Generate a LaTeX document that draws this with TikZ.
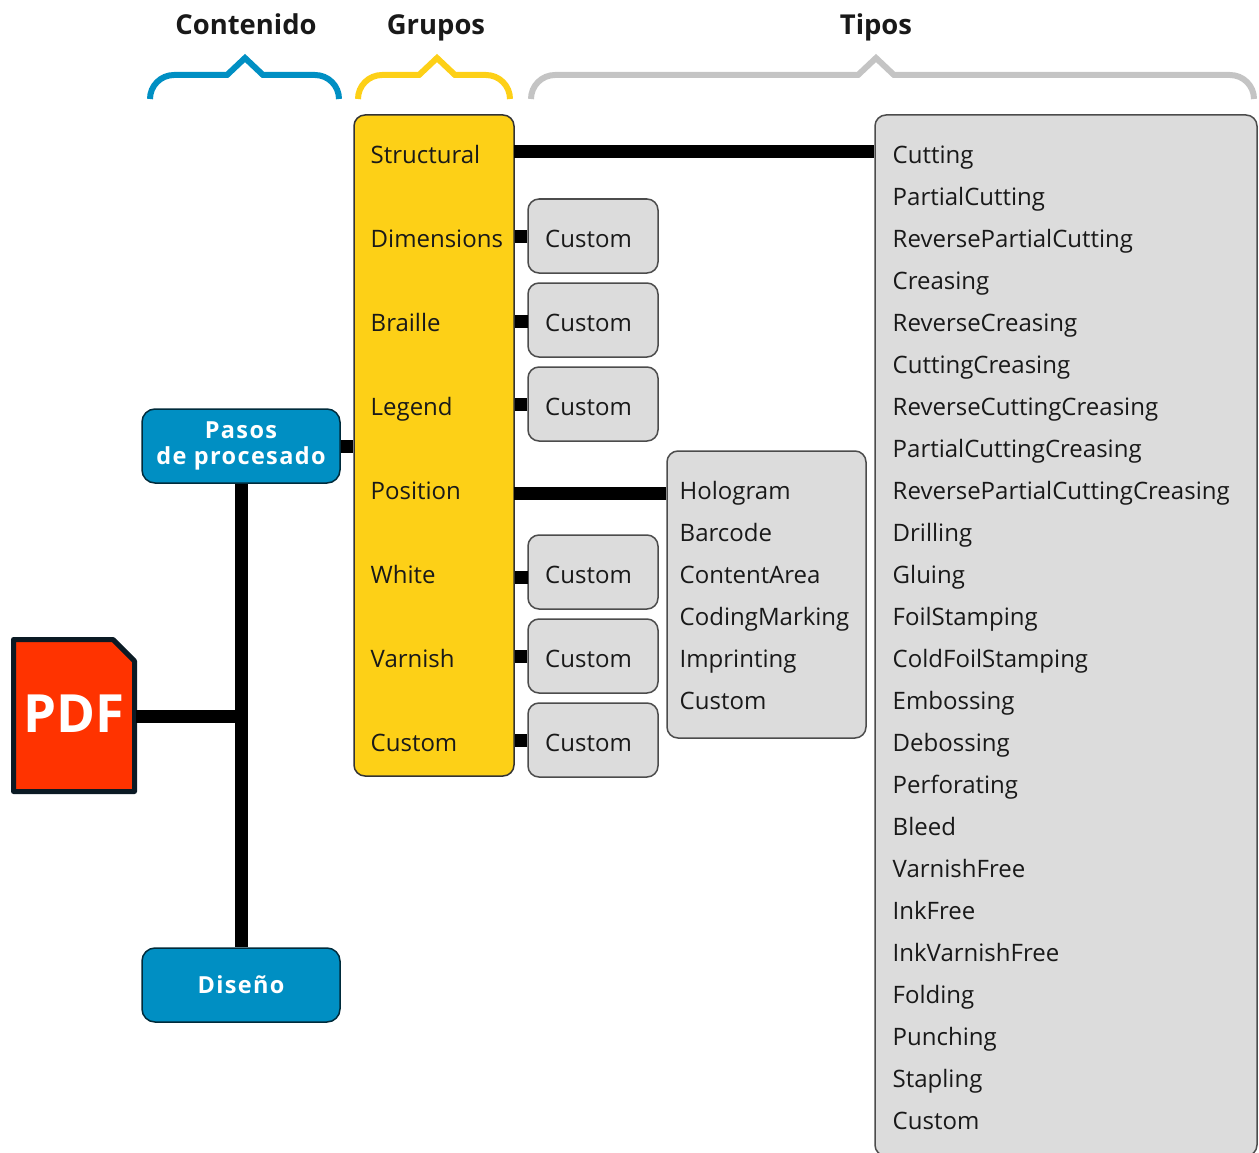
\documentclass[tikz,border=0pt]{standalone}
\usepackage{fontspec}
\setmainfont{Open Sans}
\newfontfamily\spacedbold[LetterSpace=5.7]{Open Sans}
\begin{document}
\begin{tikzpicture}[x=1pt,y=-1pt,
  lab/.style={anchor=base west,inner sep=0pt,font=\fontsize{24}{28}\selectfont,text=black!90},
  head/.style={anchor=base,inner sep=0pt,font=\fontsize{27.4}{30}\selectfont\bfseries,text=black!90},
  box/.style={draw=black!70,line width=1.5pt,rounded corners=11pt,fill=boxgrey,inner sep=0pt},
  conn/.style={draw=black,line width=13pt},
  brace/.style={line width=6pt,line join=miter},
  bluebox/.style={draw=black!70!procblue,line width=1.5pt,rounded corners=13pt,fill=procblue,inner sep=0pt,text=white,align=center,font=\fontsize{23.5}{26}\spacedbold\bfseries}]
\definecolor{boxgrey}{HTML}{DCDCDC}
\definecolor{procblue}{HTML}{008FC3}
\definecolor{grpyellow}{HTML}{FDD017}
\definecolor{pdfred}{HTML}{FF3300}
\definecolor{pdfedge}{HTML}{0B1A24}
\definecolor{bracegrey}{HTML}{C4C4C4}
\useasboundingbox (0,0) rectangle (1259,1153);
\clip (0,0) rectangle (1259,1153);
% headers
\node[head] (hC) at (246,35) {Contenido};
\node[head] (hG) at (436,35) {Grupos};
\node[head] (hT) at (876,35) {Tipos};
% braces
\draw[brace,procblue] (150,99) arc[start angle=180,end angle=270,radius=24] -- (227,75) -- (245,58) -- (263,75) -- (315,75) arc[start angle=270,end angle=360,radius=24];
\draw[brace,grpyellow] (358,99) arc[start angle=180,end angle=270,radius=24] -- (419,75) -- (437,58) -- (455,75) -- (486,75) arc[start angle=270,end angle=360,radius=24];
\draw[brace,bracegrey] (531,99) arc[start angle=180,end angle=270,radius=24] -- (858,75) -- (876,58) -- (894,75) -- (1230,75) arc[start angle=270,end angle=360,radius=24];
% main boxes
\node[box,fill=grpyellow,minimum width=160pt,minimum height=661pt,draw=black!80] (yel) at (434,445.5) {};
\node[box,minimum width=199pt,minimum height=287pt] (mid) at (766.5,594.5) {};
\node[box,minimum width=382pt,minimum height=1041pt] (big) at (1066,635.5) {};
\node[box,minimum width=130pt,minimum height=74pt] (c1) at (593,236) {};
\node[box,minimum width=130pt,minimum height=74pt] (c2) at (593,320) {};
\node[box,minimum width=130pt,minimum height=74pt] (c3) at (593,404) {};
\node[box,minimum width=130pt,minimum height=74pt] (c4) at (593,572) {};
\node[box,minimum width=130pt,minimum height=74pt] (c5) at (593,656) {};
\node[box,minimum width=130pt,minimum height=74pt] (c6) at (593,740) {};
\node[bluebox,minimum width=198pt,minimum height=74pt] (pasos) at (241,446) {Pasos\\de procesado};
\node[bluebox,minimum width=198pt,minimum height=74pt] (dis) at (241,985) {Diseño};
% PDF
\draw[line width=5pt,line join=round,draw=pdfedge,fill=pdfred] (13.5,639.5) -- (113,639.5) -- (134.5,661) -- (134.5,791.5) -- (13.5,791.5) -- cycle;
\node[inner sep=0pt,text=white,font=\fontsize{52.7}{52}\selectfont\bfseries] (pdf) at (74,714) {PDF};
\coordinate (pdfE) at (136,716);
\coordinate (spine) at (241,716);
% connectors
\draw[conn] (pasos.south) -- (dis.north);
\draw[conn] (pdfE) -- (spine);
\draw[conn] (pasos.east) -- (pasos.east -| yel.west);
\coordinate (rowS) at (514,152);
\coordinate (rowP) at (514,493);
\draw[conn] (rowS) -- (rowS -| big.west);
\draw[conn] (rowP) -- (rowP -| mid.west);
\draw[conn] (c1.west) -- (c1.west -| yel.east);
\coordinate (rc2) at (528,321);
\draw[conn] (rc2) -- (rc2 -| yel.east);
\draw[conn] (c3.west) -- (c3.west -| yel.east);
\coordinate (rc4) at (528,577);
\draw[conn] (rc4) -- (rc4 -| yel.east);
\draw[conn] (c5.west) -- (c5.west -| yel.east);
\draw[conn] (c6.west) -- (c6.west -| yel.east);
% yellow labels
\foreach \t/\y in {Structural/155,Dimensions/239,Braille/323,Legend/407,Position/491,White/575,Varnish/659,Custom/743}
  \node[lab] (y\t) at (370.5,\y+8.5) {\t};
% custom labels
\foreach \n/\y in {1/239,2/323,3/407,4/575,5/659,6/743}
  \node[lab] (cl\n) at (545,\y+8.5) {Custom};
% middle list
\foreach \t/\y in {Hologram/491,Barcode/533,ContentArea/575,CodingMarking/617,Imprinting/659,Custom/701}
  \node[lab] (m\t) at (679.5,\y+8.5) {\t};
% right list
\foreach \t [count=\i from 0] in {Cutting,PartialCutting,ReversePartialCutting,Creasing,ReverseCreasing,CuttingCreasing,ReverseCuttingCreasing,PartialCuttingCreasing,ReversePartialCuttingCreasing,Drilling,Gluing,FoilStamping,ColdFoilStamping,Embossing,Debossing,Perforating,Bleed,VarnishFree,InkFree,InkVarnishFree,Folding,Punching,Stapling,Custom}
  \node[lab] (t\i) at (892.5,155+42*\i+8.5) {\t};
\end{tikzpicture}
\end{document}
